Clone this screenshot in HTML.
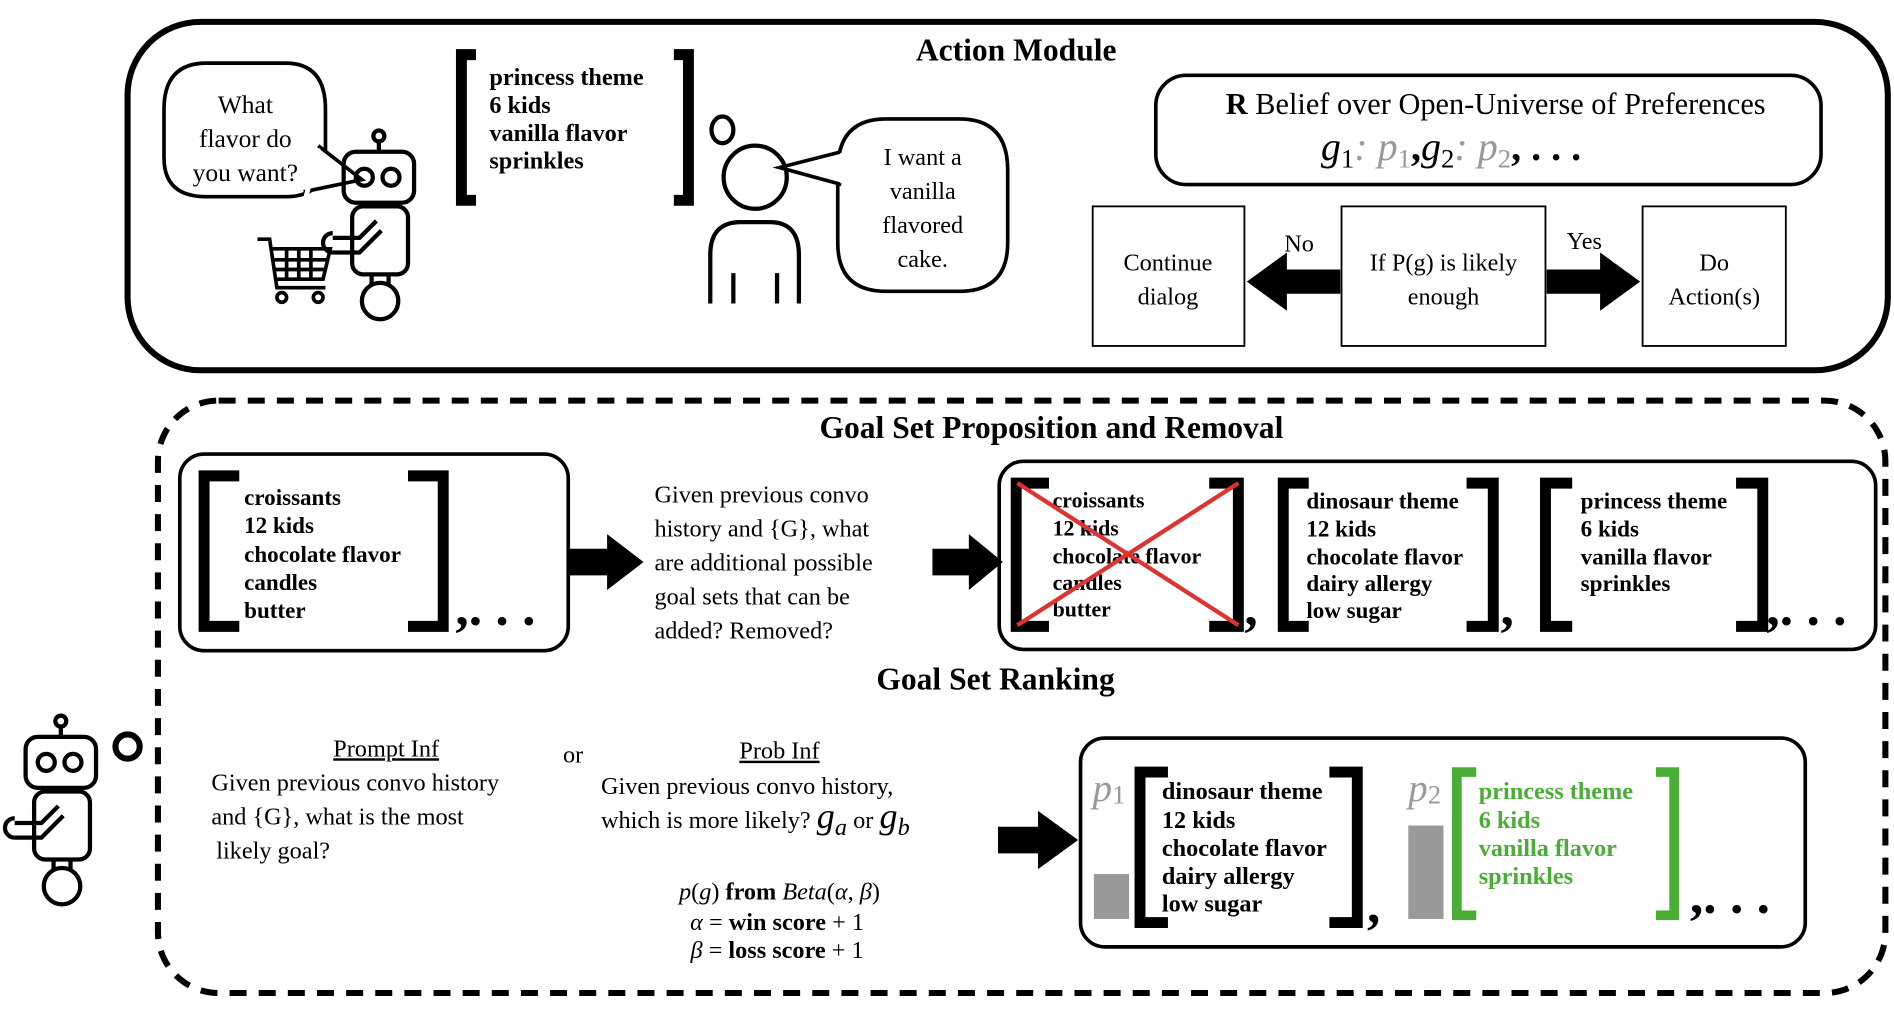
<!DOCTYPE html>
<html><head><meta charset="utf-8"><style>
html,body{margin:0;padding:0;background:#fff;}
svg{display:block;}
text{font-family:"Liberation Serif",serif;}
.b{font-weight:bold;}
</style></head><body>
<svg width="1894" height="1010" viewBox="0 0 1560 832" xmlns="http://www.w3.org/2000/svg">
<defs>
<g id="robot" fill="none" stroke="#000" stroke-width="3.5">
  <line x1="30" y1="5" x2="30" y2="17"/>
  <circle cx="30" cy="4" r="4.5" fill="#fff"/>
  <rect x="1" y="17" width="58" height="42" rx="10"/>
  <circle cx="18" cy="38" r="7"/>
  <circle cx="40" cy="38" r="7"/>
  <rect x="8" y="62" width="46" height="56" rx="9"/>
  <path d="M-8 88 h22 l14-14 M-8 100 h22 l18-18"/>
  <path d="M-8 84 a8 8 0 0 0 0 16"/>
  <line x1="24" y1="118" x2="24" y2="126"/><line x1="38" y1="118" x2="38" y2="126"/>
  <circle cx="31" cy="140" r="15"/>
</g>
</defs>

<!-- ACTION MODULE -->
<rect x="105" y="18" width="1450" height="287" rx="60" fill="none" stroke="#000" stroke-width="5"/>
<text x="837" y="50" font-size="26" class="b" text-anchor="middle">Action Module</text>

<path d="M170 52 H235 Q268 52 268 90 V130 Q268 162 235 162 H170 Q135 162 135 130 V90 Q135 52 170 52 Z" fill="#fff" stroke="#000" stroke-width="3"/>
<path d="M250 158 L298 148 L262 120" fill="#fff" stroke="#000" stroke-width="3"/>
<path d="M252 162 L262 122" stroke="#fff" stroke-width="4"/>
<text font-size="21" text-anchor="middle"><tspan x="202" y="93">What</tspan><tspan x="202" y="121">flavor do</tspan><tspan x="202" y="149">you want?</tspan></text>
<use href="#robot" x="282" y="108"/>
<g fill="none" stroke="#000" stroke-width="3">
<path d="M212 197 H222 L228 237 H268 M222 205 H272 L266 230 H228"/>
<path d="M236 205 V230 M246 205 V230 M256 205 V230 M225 214 H270 M226 222 H268"/>
<circle cx="232" cy="245" r="4"/><circle cx="262" cy="245" r="4"/>
</g>

<path d="M392 45 H380 V165 H392" fill="none" stroke="#000" stroke-width="9"/>
<path d="M555 45 H567 V165 H555" fill="none" stroke="#000" stroke-width="9"/>
<text font-size="20" class="b"><tspan x="403" y="70">princess theme</tspan><tspan x="403" y="93">6 kids</tspan><tspan x="403" y="116">vanilla flavor</tspan><tspan x="403" y="139">sprinkles</tspan></text>

<g fill="none" stroke="#000" stroke-width="3.5">
<ellipse cx="595" cy="107" rx="9" ry="11"/>
<circle cx="622" cy="146" r="26"/>
<path d="M585 250 V210 Q585 183 610 183 H634 Q658 183 658 210 V250"/>
<line x1="604" y1="225" x2="604" y2="250"/><line x1="640" y1="225" x2="640" y2="250"/>
</g>
<path d="M730 98 H790 Q830 98 830 140 V200 Q830 240 790 240 H730 Q690 240 690 200 V140 Q690 98 730 98 Z" fill="#fff" stroke="#000" stroke-width="3"/>
<path d="M693 125 L642 138 L693 152" fill="#fff" stroke="#000" stroke-width="3"/>
<path d="M694 126 V151" stroke="#fff" stroke-width="4"/>
<text font-size="20" text-anchor="middle"><tspan x="760" y="136">I want a</tspan><tspan x="760" y="164">vanilla</tspan><tspan x="760" y="192">flavored</tspan><tspan x="760" y="220">cake.</tspan></text>

<rect x="952" y="62" width="548" height="90" rx="25" fill="none" stroke="#000" stroke-width="3"/>
<text x="1232" y="94" font-size="25" text-anchor="middle"><tspan class="b">R</tspan> Belief over Open-Universe of Preferences</text>
<text x="1088" y="132" font-size="33" font-style="italic">g<tspan font-size="22" dy="6" font-style="normal">1</tspan><tspan dy="-6" fill="#999">: p</tspan><tspan font-size="22" dy="6" fill="#999" font-style="normal">1</tspan><tspan dy="-6" class="b" font-style="normal">,</tspan>g<tspan font-size="22" dy="6" font-style="normal">2</tspan><tspan dy="-6" fill="#999">: p</tspan><tspan font-size="22" dy="6" fill="#999" font-style="normal">2</tspan><tspan dy="-6" font-style="normal" class="b">,  . . .</tspan></text>

<g fill="none" stroke="#000" stroke-width="1.5">
<rect x="900" y="170" width="125" height="115"/>
<rect x="1105" y="170" width="168" height="115"/>
<rect x="1353" y="170" width="118" height="115"/>
</g>
<text font-size="20" text-anchor="middle"><tspan x="962" y="223">Continue</tspan><tspan x="962" y="251">dialog</tspan></text>
<text font-size="20" text-anchor="middle"><tspan x="1189" y="223">If P(g) is likely</tspan><tspan x="1189" y="251">enough</tspan></text>
<text font-size="20" text-anchor="middle"><tspan x="1412" y="223">Do</tspan><tspan x="1412" y="251">Action(s)</tspan></text>
<polygon points="1104,222 1060,222 1060,208 1027,232 1060,256 1060,242 1104,242"/>
<polygon points="1274,222 1318,222 1318,208 1351,232 1318,256 1318,242 1274,242"/>
<text x="1070" y="207" font-size="20" text-anchor="middle">No</text>
<text x="1305" y="205" font-size="20" text-anchor="middle">Yes</text>

<!-- DASHED BOX -->
<rect x="130" y="330" width="1423" height="488" rx="50" fill="none" stroke="#000" stroke-width="5" stroke-dasharray="14 10"/>
<text x="866" y="361" font-size="26" class="b" text-anchor="middle">Goal Set Proposition and Removal</text>

<rect x="148" y="374" width="320" height="162" rx="20" fill="none" stroke="#000" stroke-width="3"/>
<path d="M197 392 H168 V516 H197" fill="none" stroke="#000" stroke-width="9"/>
<path d="M336 392 H365 V516 H336" fill="none" stroke="#000" stroke-width="9"/>
<text font-size="19" class="b"><tspan x="201" y="416">croissants</tspan><tspan x="201" y="439">12 kids</tspan><tspan x="201" y="463">chocolate flavor</tspan><tspan x="201" y="486">candles</tspan><tspan x="201" y="509">butter</tspan></text>
<text x="375" y="515" font-size="44" class="b">,. . .</text>

<polygon points="468,452 500,452 500,440 530,463 500,486 500,474 468,474"/>
<text font-size="20"><tspan x="539" y="414">Given previous convo</tspan><tspan x="539" y="442">history and {G}, what</tspan><tspan x="539" y="470">are additional possible</tspan><tspan x="539" y="498">goal sets that can be</tspan><tspan x="539" y="526">added? Removed?</tspan></text>
<polygon points="768,452 798,452 798,440 826,463 798,486 798,474 768,474"/>

<rect x="823" y="380" width="722" height="155" rx="20" fill="none" stroke="#000" stroke-width="3"/>
<g fill="none" stroke="#000" stroke-width="9">
<path d="M864 398 H837 V516 H864"/><path d="M996 398 H1020 V516 H996"/>
<path d="M1078 398 H1057 V516 H1078"/><path d="M1208 398 H1230 V516 H1208"/>
<path d="M1295 398 H1273 V516 H1295"/><path d="M1430 398 H1452 V516 H1430"/>
</g>
<text font-size="18" class="b"><tspan x="867" y="418">croissants</tspan><tspan x="867" y="441">12 kids</tspan><tspan x="867" y="464">chocolate flavor</tspan><tspan x="867" y="486">candles</tspan><tspan x="867" y="508">butter</tspan></text>
<line x1="838" y1="398" x2="1020" y2="515" stroke="#d33" stroke-width="3.5"/>
<line x1="1020" y1="398" x2="838" y2="515" stroke="#d33" stroke-width="3.5"/>
<text font-size="19" class="b"><tspan x="1076" y="419">dinosaur theme</tspan><tspan x="1076" y="442">12 kids</tspan><tspan x="1076" y="465">chocolate flavor</tspan><tspan x="1076" y="487">dairy allergy</tspan><tspan x="1076" y="509">low sugar</tspan></text>
<text font-size="19" class="b"><tspan x="1302" y="419">princess theme</tspan><tspan x="1302" y="442">6 kids</tspan><tspan x="1302" y="465">vanilla flavor</tspan><tspan x="1302" y="487">sprinkles</tspan></text>
<text x="1025" y="515" font-size="44" class="b">,</text>
<text x="1236" y="515" font-size="44" class="b">,</text>
<text x="1455" y="515" font-size="44" class="b">,. . .</text>

<text x="820" y="568" font-size="26" class="b" text-anchor="middle">Goal Set Ranking</text>

<text x="318" y="623" font-size="20" text-anchor="middle" text-decoration="underline">Prompt Inf</text>
<text font-size="20"><tspan x="174" y="651">Given previous convo history</tspan><tspan x="174" y="679">and {G}, what is the most</tspan><tspan x="178" y="707">likely goal?</tspan></text>
<text x="472" y="628" font-size="20" text-anchor="middle">or</text>
<text x="642" y="625" font-size="20" text-anchor="middle" text-decoration="underline">Prob Inf</text>
<text font-size="20"><tspan x="495" y="654">Given previous convo history,</tspan><tspan x="495" y="682">which is more likely? </tspan><tspan font-size="30" font-style="italic">g</tspan><tspan font-size="20" font-style="italic" dy="6">a</tspan><tspan dy="-6"> or </tspan><tspan font-size="30" font-style="italic">g</tspan><tspan font-size="20" font-style="italic" dy="6">b</tspan></text>
<text font-size="20" text-anchor="middle"><tspan x="642" y="741"><tspan font-style="italic">p</tspan>(<tspan font-style="italic">g</tspan>) <tspan class="b">from</tspan> <tspan font-style="italic">Beta</tspan>(<tspan font-style="italic">α</tspan>, <tspan font-style="italic">β</tspan>)</tspan><tspan x="640" y="766"><tspan font-style="italic">α</tspan> = <tspan class="b">win score</tspan> + 1</tspan><tspan x="640" y="789"><tspan font-style="italic">β</tspan> = <tspan class="b">loss score</tspan> + 1</tspan></text>

<polygon points="822,681 855,681 855,668 888,692 855,716 855,703 822,703"/>

<rect x="890" y="608" width="597" height="172" rx="20" fill="none" stroke="#000" stroke-width="3"/>
<text x="900" y="660" font-size="32" font-style="italic" fill="#999">p<tspan font-size="22" dy="2" font-style="normal">1</tspan></text>
<rect x="901" y="720" width="29" height="37" fill="#999"/>
<path d="M962 636 H939 V760 H962" fill="none" stroke="#000" stroke-width="9"/>
<path d="M1095 636 H1118 V760 H1095" fill="none" stroke="#000" stroke-width="9"/>
<text font-size="20" class="b"><tspan x="957" y="658">dinosaur theme</tspan><tspan x="957" y="682">12 kids</tspan><tspan x="957" y="705">chocolate flavor</tspan><tspan x="957" y="728">dairy allergy</tspan><tspan x="957" y="751">low sugar</tspan></text>
<text x="1126" y="760" font-size="44" class="b">,</text>
<text x="1160" y="660" font-size="32" font-style="italic" fill="#999">p<tspan font-size="22" dy="2" font-style="normal">2</tspan></text>
<rect x="1160" y="680" width="29" height="77" fill="#999"/>
<path d="M1216 636 H1200 V754 H1216" fill="none" stroke="#4aad35" stroke-width="8"/>
<path d="M1364 636 H1379 V754 H1364" fill="none" stroke="#4aad35" stroke-width="8"/>
<text font-size="20" class="b" fill="#4aad35"><tspan x="1218" y="658">princess theme</tspan><tspan x="1218" y="682">6 kids</tspan><tspan x="1218" y="705">vanilla flavor</tspan><tspan x="1218" y="728">sprinkles</tspan></text>
<text x="1392" y="752" font-size="44" class="b">,. . .</text>

<use href="#robot" x="20" y="590"/>
<circle cx="105" cy="615" r="10" fill="none" stroke="#000" stroke-width="5"/>
</svg>
</body></html>
